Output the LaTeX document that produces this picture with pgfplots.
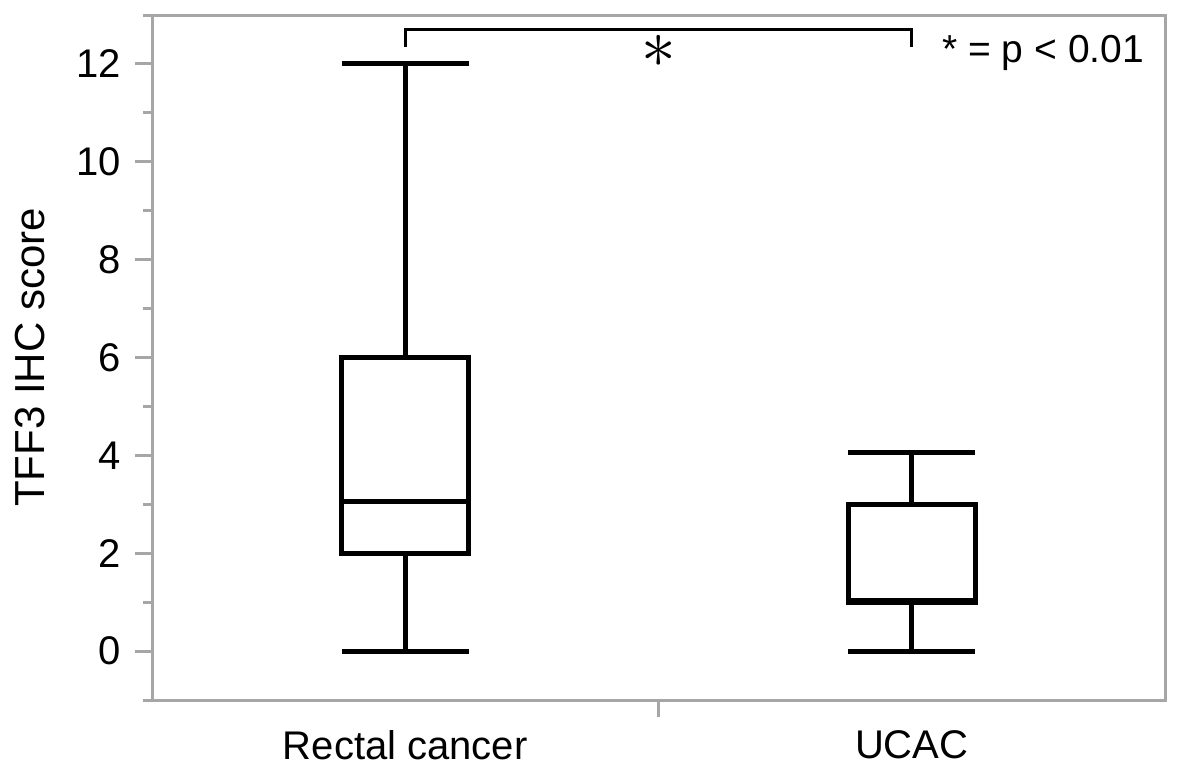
\documentclass[border=0pt]{standalone}
\usepackage{fontspec}
\setmainfont{Liberation Sans}
\usepackage{pgfplots}
\pgfplotsset{compat=1.18}
\usepgfplotslibrary{statistics}

\begin{document}
\begin{tikzpicture}
\begin{axis}[
  scale only axis,
  width=303.9pt, height=205.5pt,
  xmin=0.5, xmax=2.5, ymin=-1, ymax=13,
  axis line style={gray!70, line width=0.9pt},
  tick style={gray!70, line width=0.9pt},
  tick align=outside,
  major tick length=5pt, minor tick length=2.7pt,
  ytick={0,2,...,12}, minor ytick={-1,1,...,13},
  ytick pos=left, xtick pos=bottom,
  xtick={1.5}, xticklabels={{}},
  extra x ticks={1,2},
  extra x tick labels={Rectal cancer, UCAC},
  extra x tick style={major tick length=0pt},
  tick label style={font=\fontsize{12}{14}\selectfont},
  xticklabel style={yshift=-5.5pt},
  yticklabel style={xshift=-0.8pt},
  /pgf/number format/assume math mode=true,
  ylabel={TFF3 IHC score},
  ylabel style={font=\fontsize{12.6}{14}\selectfont, at={(axis description cs:-0.12,0.5)}, anchor=center},
  clip=false,
  boxplot/draw direction=y,
  boxplot/box extend=0.25,
  boxplot/whisker extend=0.25,
]
\coordinate (bl) at (rel axis cs:0,0);
\coordinate (tr) at (rel axis cs:1,1);

% Rectal cancer
\addplot[black, line width=1.5pt, boxplot prepared={
  draw position=1,
  lower whisker=0, lower quartile=2, median=3.05,
  upper quartile=6, upper whisker=12}] coordinates {};
% UCAC
\addplot[black, line width=1.5pt, boxplot prepared={
  draw position=2,
  lower whisker=0, lower quartile=1, median=1.03,
  upper quartile=3, upper whisker=4.05}] coordinates {};

% significance bracket
\addplot[black, line width=0.9pt] coordinates {(1,12.35) (1,12.7) (2,12.7) (2,12.35)};
\node at (axis cs:1.5,12.25) {\fontsize{20}{20}\selectfont$\ast$};
\node[anchor=west, font=\fontsize{11.7}{14}\selectfont] at (axis cs:2.037,12.23) {* = p < 0.01};
\end{axis}
\pgfresetboundingbox
\path (bl) ++(-45.6pt,-20.7pt) rectangle ([shift={(4.8pt,4.5pt)}]tr);
\end{tikzpicture}
\end{document}
